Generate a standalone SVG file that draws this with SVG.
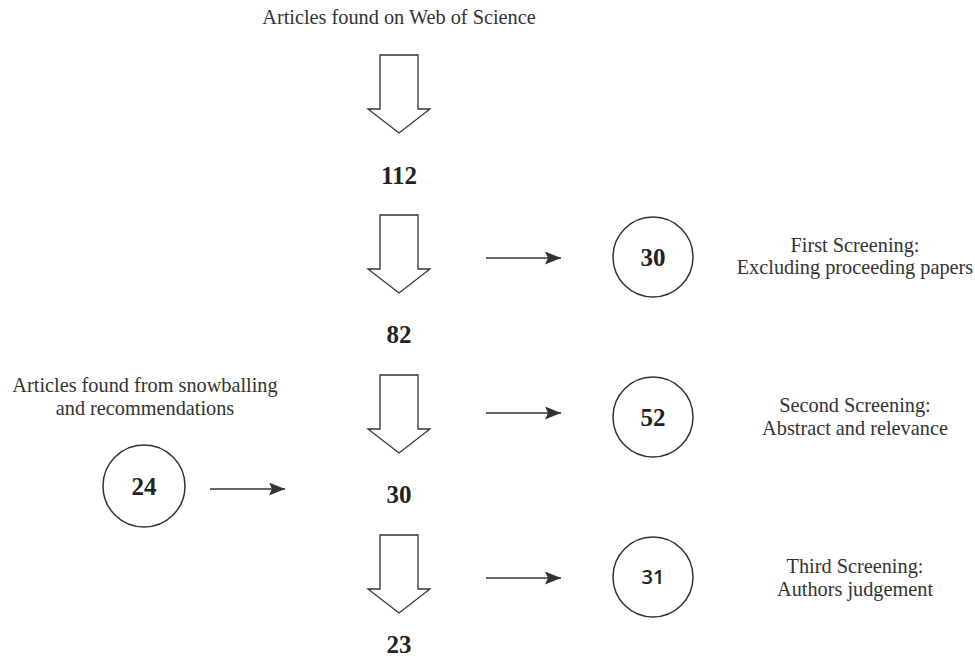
<svg xmlns="http://www.w3.org/2000/svg" width="975" height="658" viewBox="0 0 975 658">
<defs>
<style>
.lbl{font-family:"Liberation Serif","Times New Roman",serif;font-size:20.3px;fill:#333;text-anchor:middle}
.num{font-family:"Liberation Serif","Times New Roman",serif;font-size:25px;font-weight:bold;fill:#222;text-anchor:middle}
.sans{font-family:"Open Sans","Liberation Sans",sans-serif;font-size:20px;font-weight:600;fill:#222;text-anchor:middle}
.big{fill:#fff;stroke:#333;stroke-width:1.3}
.circ{fill:#fff;stroke:#333;stroke-width:1.5}
.con{stroke:#333;stroke-width:1.5;fill:none;marker-end:url(#ah)}
</style>
<marker id="ah" viewBox="0 0 16 13" refX="16" refY="6.5" markerWidth="16" markerHeight="13" markerUnits="userSpaceOnUse" orient="auto">
<path d="M0,0 L16,6.5 L0,13 L3,6.5 z" fill="#333"/>
</marker>
</defs>
<rect width="975" height="658" fill="#fff"/>
<g id="title"><text class="lbl" x="399" y="24">Articles found on Web of Science</text></g>
<g id="arrow1"><path class="big" d="M380,55 H418 V109 H430 L399,133 L368,109 H380 Z"/></g>
<g id="n112"><text class="num" x="399" y="184">112</text></g>
<g id="arrow2"><path class="big" d="M380,215 H418 V269 H430 L399,293 L368,269 H380 Z"/></g>
<g id="n82"><text class="num" x="399" y="343">82</text></g>
<g id="arrow3"><path class="big" d="M380,375 H418 V429 H430 L399,453 L368,429 H380 Z"/></g>
<g id="n30b"><text class="num" x="399" y="503">30</text></g>
<g id="arrow4"><path class="big" d="M380,535 H418 V589 H430 L399,613 L368,589 H380 Z"/></g>
<g id="n23"><text class="num" x="399" y="653">23</text></g>
<g id="c30"><circle class="circ" cx="653" cy="257" r="40"/><text class="num" x="653" y="266">30</text></g>
<g id="c52"><circle class="circ" cx="653" cy="417" r="40"/><text class="num" x="653" y="426">52</text></g>
<g id="c31"><circle class="circ" cx="653" cy="577" r="40"/><text class="sans" x="653" y="584">31</text></g>
<g id="c24"><circle class="circ" cx="144" cy="486" r="41"/><text class="num" x="144" y="495">24</text></g>
<g id="t1"><text class="lbl" x="855" y="252">First Screening:</text><text class="lbl" x="855" y="274">Excluding proceeding papers</text></g>
<g id="t2"><text class="lbl" x="855" y="412">Second Screening:</text><text class="lbl" x="855" y="435">Abstract and relevance</text></g>
<g id="t3"><text class="lbl" x="855" y="573">Third Screening:</text><text class="lbl" x="855" y="596">Authors judgement</text></g>
<g id="t4"><text class="lbl" x="145" y="392">Articles found from snowballing</text><text class="lbl" x="145" y="415">and recommendations</text></g>
<g id="connectors">
<line class="con" x1="486" y1="258" x2="561" y2="258"/>
<line class="con" x1="486" y1="413" x2="561" y2="413"/>
<line class="con" x1="486" y1="578" x2="561" y2="578"/>
<line class="con" x1="210" y1="489" x2="285" y2="489"/>
</g>
</svg>
